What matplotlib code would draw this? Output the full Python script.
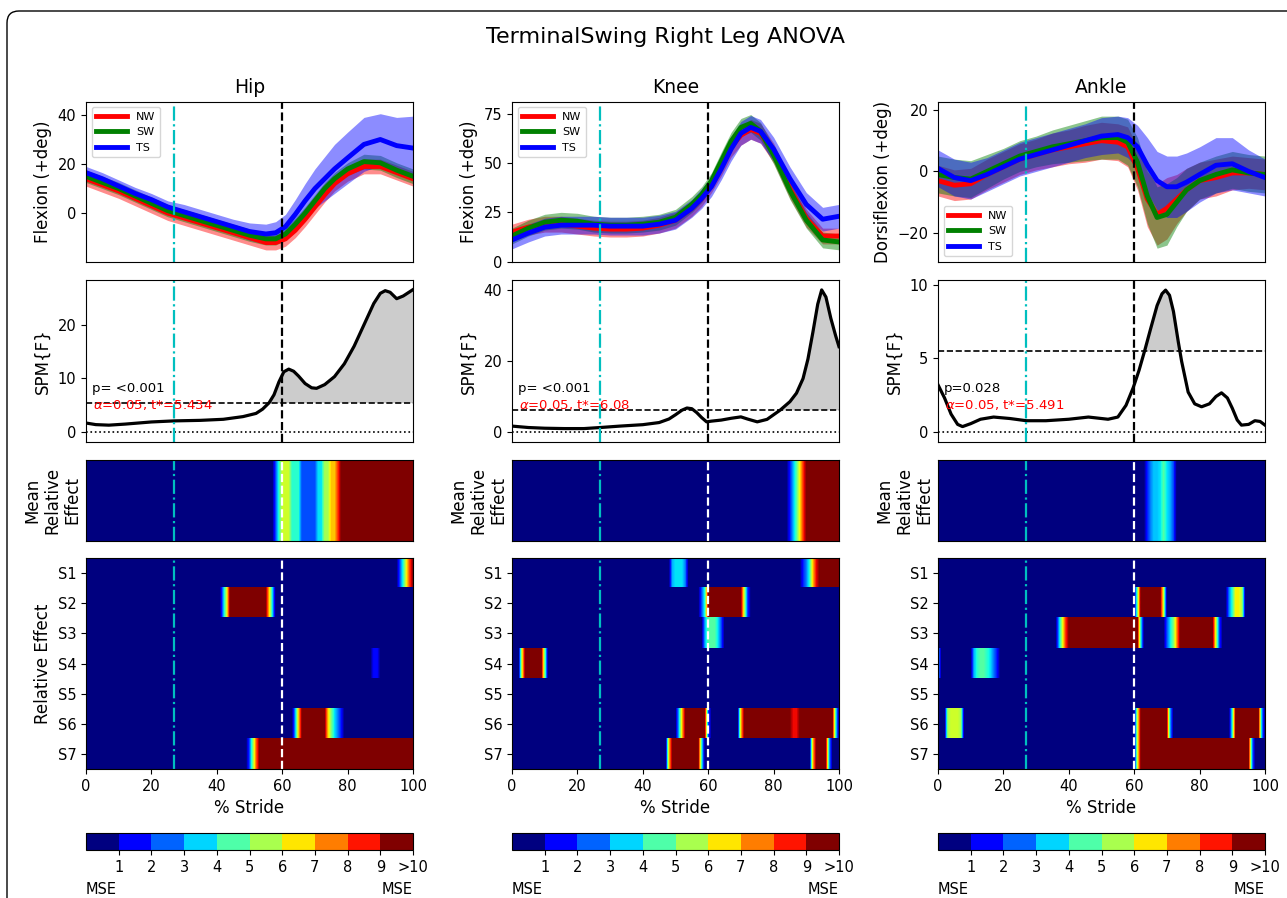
import numpy as np
import matplotlib
matplotlib.use('Agg')
import matplotlib.pyplot as plt
from matplotlib.colors import Normalize
from matplotlib.cm import ScalarMappable
from matplotlib.patches import FancyBboxPatch

W, H = 1287, 898

# ---- kinematics (mean / sd) on a shared % stride grid ----
xk = [0, 5, 10, 15, 20, 25, 30, 35, 40, 45, 50, 55, 58, 61, 64, 67, 70, 73, 76, 80, 85, 90, 95, 100]

hip_nw = [14, 11.5, 9, 6, 3, 0, -2, -4, -6, -8, -10, -12, -12, -10.5, -7, -2.5, 2.5, 7.5, 12, 16, 19, 19, 16.5, 14]
hip_sw = [15, 12.5, 10, 7, 4, 1, -1, -3, -5, -7, -9, -10.5, -10.5, -8.5, -4.5, 0, 5, 10, 14, 18, 21, 20.5, 17.5, 15]
hip_ts = [16.5, 14, 11, 8, 5.5, 2.5, 0.5, -1.5, -3.5, -5.5, -7.5, -8.5, -8, -5.5, -0.5, 5, 10, 14, 18, 22.5, 28, 30, 27.5, 26.5]
hip_nw_sd = [3, 3, 3, 3, 3, 3, 3, 3, 3, 3, 3, 3, 3, 3, 3, 3, 3, 3, 3, 3, 3, 3, 3, 3]
hip_sw_sd = [2.5, 2.5, 2.5, 2.5, 2.5, 2.5, 2.5, 2.5, 2.5, 2.5, 2.5, 2.5, 2.5, 2.5, 2.5, 2.5, 2.5, 2.5, 2.5, 2.5, 3, 3, 3, 3]
hip_ts_sd = [2.5, 2.5, 2.5, 2.5, 2.5, 2.5, 3, 3, 3, 3, 3.5, 4, 4.5, 5, 6, 7, 8, 9, 10, 10.5, 11, 10.5, 11.5, 13]

knee_nw = [15, 17.5, 19, 19, 18, 17, 16.5, 16.5, 17, 18.5, 21, 27, 32, 39, 48, 58, 64, 67, 65, 55, 37, 22, 13, 13]
knee_sw = [13, 17, 20, 21, 20.5, 19, 18.5, 18.5, 19, 20, 22.5, 29, 34, 41, 51, 61, 68, 70, 66, 54, 36, 21, 11, 10]
knee_ts = [11, 14.5, 17.5, 18.5, 18.5, 18.5, 18, 18, 18, 19, 21, 27, 32, 38, 47, 57, 65, 68, 66, 57, 42, 29, 21.5, 23]
knee_nw_sd = [4, 4, 4, 4, 4, 4, 4, 4, 4, 4, 4, 4, 4, 4, 4.5, 5, 5, 5, 5, 5, 5, 4.5, 4, 4]
knee_sw_sd = [4, 4, 4, 4, 4, 4, 4, 4, 4, 4, 4, 4, 4, 4, 4.5, 4.5, 4.5, 4.5, 4.5, 4.5, 4.5, 4, 4, 4]
knee_ts_sd = [4.5, 4.5, 4.5, 4.5, 4.5, 4.5, 4.5, 4.5, 4.5, 4.5, 4.5, 4.5, 5, 5, 5.5, 6, 6, 6, 6, 6, 6, 6, 6, 6]

ankle_nw = [-3, -4.5, -4, -1, 1.5, 4, 5.5, 7, 8, 9, 10, 9.5, 8, 1, -9, -14, -12, -9, -6, -3, -2, -0.5, -0.5, -1]
ankle_sw = [-1, -2, -2.5, 0, 2.5, 5, 6.5, 8, 9, 10, 11, 11, 9.5, 3, -8, -15, -14, -10, -6, -3, -1, 0.5, -0.5, -1]
ankle_ts = [1, -2, -3, -1, 1.5, 4, 5.5, 7, 8.5, 10, 11.5, 12, 11, 8, 2, -3, -5, -5, -3.5, -1, 2, 2.5, 0, -2]
ankle_nw_sd = [5, 5, 5, 5, 5, 5, 5, 5.5, 5.5, 6, 6, 6, 6.5, 7, 9, 10, 10, 8, 7, 6, 6, 5.5, 5, 5]
ankle_sw_sd = [6, 6, 6, 5.5, 5, 5, 5, 5.5, 6, 6.5, 7, 7, 7.5, 8, 9, 10, 10, 8, 7, 6, 6, 6, 6, 6]
ankle_ts_sd = [6, 6, 6, 5.5, 5.5, 5.5, 5.5, 5.5, 5.5, 5.5, 6, 6, 6.5, 7, 9, 9.5, 10, 10, 9.5, 9, 9, 8.5, 7, 6]

# ---- SPM{F} curves ----
hip_spm_x = [0, 3, 7, 12, 20, 27, 35, 42, 48, 52, 54, 56, 57.5, 59, 60.5, 62, 63.5, 65, 67, 69, 70.5, 73, 76, 79, 82, 85, 88, 90, 91.5, 93, 95, 97, 100]
hip_spm = [1.6, 1.3, 1.2, 1.4, 1.8, 2.0, 2.1, 2.3, 2.8, 3.4, 4.2, 5.4, 6.9, 9.3, 11.2, 11.7, 11.3, 10.4, 9.0, 8.2, 8.1, 8.8, 10.3, 12.7, 16, 20, 24, 25.9, 26.4, 26.1, 24.9, 25.4, 26.6]
knee_spm_x = [0, 5, 10, 16, 22, 27, 33, 40, 45, 48, 50, 52, 53.5, 55, 56.5, 58, 59.5, 61, 64, 67, 70, 72, 75, 78, 82, 85, 87, 89, 90.5, 92, 93.5, 94.7, 96, 97.5, 99, 100]
knee_spm = [1.6, 1.2, 1.0, 0.9, 0.9, 1.2, 1.6, 2.0, 2.6, 3.6, 4.8, 6.1, 6.7, 6.5, 5.4, 4.0, 2.8, 3.0, 3.3, 3.8, 4.2, 3.6, 2.8, 3.5, 6.1, 8.5, 10.9, 15, 20.5, 28, 36, 40, 38, 32, 27, 24]
ankle_spm_x = [0, 2, 4, 6, 7.5, 10, 13, 17, 22, 27, 33, 40, 46, 52, 55, 57.5, 59.7, 61.5, 63.3, 65, 67, 68.5, 69.6, 70.8, 72, 73.5, 74.5, 76.5, 78.5, 80.6, 83, 85, 86.7, 88.5, 90, 91.5, 92.8, 95, 96.9, 98.5, 100]
ankle_spm = [3.2, 2.3, 1.2, 0.5, 0.35, 0.55, 0.85, 1.0, 0.9, 0.75, 0.75, 0.85, 1.0, 0.85, 1.0, 1.8, 3.0, 4.2, 5.6, 7.0, 8.6, 9.4, 9.65, 9.3, 8.2, 6.1, 4.8, 2.7, 1.9, 1.7, 1.9, 2.4, 2.65, 2.3, 1.6, 0.8, 0.45, 0.5, 0.75, 0.7, 0.45]

thresholds = [5.434, 6.08, 5.491]
p_labels = ['p= <0.001', 'p= <0.001', 'p=0.028']

# ---- relative effect (MSE) maps: (first %, last %, value) ----
hip_mean_eff = [(58, 58, 2), (59, 59, 4), (60, 62, 6), (63, 65, 4), (66, 70, 2), (71, 72, 3.5),
                (73, 74, 5.5), (75, 76, 7), (77, 77, 8.5), (78, 100, 10)]
hip_subj_eff = [
    [(96, 96, 2), (97, 97, 4), (98, 98, 6.5), (99, 99, 8.5), (100, 100, 10)],
    [(42, 42, 3), (43, 43, 6), (44, 55, 10), (56, 56, 7), (57, 57, 3.5)],
    [],
    [(88, 89, 1.3)],
    [],
    [(64, 64, 3), (65, 65, 7), (66, 73, 10), (74, 74, 7), (75, 75, 5), (76, 76, 3.5), (77, 77, 2.5), (78, 78, 1.5)],
    [(50, 50, 2), (51, 51, 5), (52, 52, 8), (53, 100, 10)],
]
knee_mean_eff = [(85, 85, 1.5), (86, 86, 3), (87, 87, 4.5), (88, 88, 6.5), (89, 89, 8.5), (90, 100, 10)]
knee_subj_eff = [
    [(49, 49, 3), (50, 52, 3.5), (53, 53, 2.5), (89, 89, 1.5), (90, 90, 2.5), (91, 91, 4), (92, 92, 7), (93, 93, 9), (94, 100, 10)],
    [(58, 58, 2), (59, 59, 4), (60, 70, 10), (71, 71, 6), (72, 72, 2)],
    [(59, 59, 3), (60, 62, 4.5), (63, 63, 3.5), (64, 64, 2)],
    [(3, 3, 6), (4, 9, 10), (10, 10, 5)],
    [],
    [(51, 51, 3), (52, 52, 7), (53, 59, 10), (60, 60, 2), (70, 70, 7), (71, 85, 10), (86, 87, 9), (88, 98, 10), (99, 99, 4)],
    [(48, 48, 7), (49, 57, 10), (58, 58, 4), (92, 92, 7), (93, 96, 10), (97, 97, 3)],
]
ankle_mean_eff = [(64, 64, 1.5), (65, 65, 2.5), (66, 67, 3.2), (68, 68, 3.5), (69, 69, 4.5), (70, 70, 3.5), (71, 71, 3), (72, 72, 2)]
ankle_subj_eff = [
    [],
    [(61, 61, 5), (62, 68, 10), (69, 69, 6), (89, 89, 2.5), (90, 90, 4), (91, 92, 6.5), (93, 93, 5.5)],
    [(37, 37, 3), (38, 38, 6), (39, 39, 8.5), (40, 61, 10), (62, 62, 4), (70, 70, 2), (71, 71, 3.5),
     (72, 72, 5), (73, 73, 7.5), (74, 84, 10), (85, 85, 6), (86, 86, 2)],
    [(0, 0, 3.5), (11, 11, 3), (12, 12, 4), (13, 14, 4.5), (15, 15, 4), (16, 16, 3.5), (17, 17, 2.5), (18, 18, 1.5)],
    [],
    [(3, 3, 5.5), (4, 6, 6), (7, 7, 5.5), (61, 61, 6), (62, 70, 10), (71, 71, 3), (90, 90, 4), (91, 98, 10), (99, 99, 3)],
    [(61, 61, 6), (62, 95, 10), (96, 96, 3)],
]

subjects = ['S1', 'S2', 'S3', 'S4', 'S5', 'S6', 'S7']
cbar_labels = ['1', '2', '3', '4', '5', '6', '7', '8', '9', '>10']
toe_off = 60
phase_mark = 27


def seg_row(segs):
    row = np.zeros(101)
    for a, b, v in segs:
        row[a:b + 1] = v
    return row


def pax(left, top, bottom, width=327):
    return fig.add_axes([left / W, 1 - bottom / H, width / W, (bottom - top) / H])


joints = [
    dict(name='Hip', ylabel='Flexion (+deg)', means=[hip_nw, hip_sw, hip_ts], sds=[hip_nw_sd, hip_sw_sd, hip_ts_sd],
         ylim=(-19.8, 45.4), yt=[0, 20, 40], spm_x=hip_spm_x, spm=hip_spm, spm_ylim=(-1.9, 28.4), spm_yt=[0, 10, 20],
         mean_eff=hip_mean_eff, subj_eff=hip_subj_eff, leg_loc='upper left'),
    dict(name='Knee', ylabel='Flexion (+deg)', means=[knee_nw, knee_sw, knee_ts], sds=[knee_nw_sd, knee_sw_sd, knee_ts_sd],
         ylim=(0, 81), yt=[0, 25, 50, 75], spm_x=knee_spm_x, spm=knee_spm, spm_ylim=(-2.8, 42.8), spm_yt=[0, 20, 40],
         mean_eff=knee_mean_eff, subj_eff=knee_subj_eff, leg_loc='upper left'),
    dict(name='Ankle', ylabel='Dorsiflexion (+deg)', means=[ankle_nw, ankle_sw, ankle_ts], sds=[ankle_nw_sd, ankle_sw_sd, ankle_ts_sd],
         ylim=(-29.4, 22.7), yt=[-20, 0, 20], spm_x=ankle_spm_x, spm=ankle_spm, spm_ylim=(-0.68, 10.34), spm_yt=[0, 5, 10],
         mean_eff=ankle_mean_eff, subj_eff=ankle_subj_eff, leg_loc='lower left'),
]

plt.rcParams['font.size'] = 10.5
plt.rcParams['axes.labelsize'] = 12
fig = plt.figure(figsize=(W / 100, H / 100), dpi=100)

fig.add_artist(FancyBboxPatch((0.07, -0.5), 13.5, 8.87 + 0.5, boxstyle='round,pad=0,rounding_size=0.12',
                              transform=fig.dpi_scale_trans, facecolor='none', edgecolor='black', lw=1.0))
fig.text(665 / W, 1 - 37 / H, 'TerminalSwing Right Leg ANOVA', ha='center', va='center', fontsize=16)

cmap = plt.get_cmap('jet')
norm = Normalize(0, 10)
colors = ['red', 'green', 'blue']
groups = ['NW', 'SW', 'TS']

for j, jd in enumerate(joints):
    left = 86 + j * 426

    # kinematics
    ax = pax(left, 101.7, 261.7)
    for m, s, c in zip(jd['means'], jd['sds'], colors):
        m = np.array(m); s = np.array(s)
        ax.fill_between(xk, m - s, m + s, color=c, alpha=0.45, lw=0)
    for m, c, g in zip(jd['means'], colors, groups):
        ax.plot(xk, m, color=c, lw=3.5, label=g)
    ax.axvline(phase_mark, color='c', ls='-.', lw=1.6)
    ax.axvline(toe_off, color='k', ls='--', lw=1.6)
    ax.set_xlim(0, 100)
    ax.set_ylim(*jd['ylim'])
    ax.set_yticks(jd['yt'])
    ax.set_xticks([])
    ax.set_ylabel(jd['ylabel'])
    ax.set_title(jd['name'], fontsize=13.5, pad=6)
    ax.legend(loc=jd['leg_loc'], fontsize=8, handlelength=2.8)

    # SPM{F}
    ax = pax(left, 280, 441.7)
    sx = np.array(jd['spm_x']); sy = np.array(jd['spm'])
    th = thresholds[j]
    ax.fill_between(sx, th, sy, where=sy > th, interpolate=True, color='0.8', lw=0)
    ax.plot(sx, sy, color='k', lw=2.3)
    ax.axhline(th, color='k', ls='--', lw=1.2)
    ax.axhline(0, color='k', ls=':', lw=1.2)
    ax.axvline(phase_mark, color='c', ls='-.', lw=1.6)
    ax.axvline(toe_off, color='k', ls='--', lw=1.6)
    ax.text(0.018, 0.33, p_labels[j], transform=ax.transAxes, va='center', fontsize=9.5)
    ax.text(0.022, 0.225, r'$\alpha$=0.05, t*=%s' % th, transform=ax.transAxes, va='center', fontsize=9.5, color='red')
    ax.set_xlim(0, 100)
    ax.set_ylim(*jd['spm_ylim'])
    ax.set_yticks(jd['spm_yt'])
    ax.set_xticks([])
    ax.set_ylabel('SPM{F}')

    # mean relative effect
    ax = pax(left, 460, 541)
    ax.imshow(seg_row(jd['mean_eff'])[None, :], extent=(-0.5, 100.5, 0, 1), aspect='auto', cmap=cmap, norm=norm,
              interpolation='bilinear', interpolation_stage='data')
    ax.axvline(phase_mark, color='c', ls='-.', lw=1.6)
    ax.axvline(toe_off, color='w', ls='--', lw=1.6)
    ax.set_xlim(0, 100)
    ax.set_ylim(0, 1)
    ax.set_xticks([])
    ax.set_yticks([])
    ax.set_ylabel('Mean\nRelative\nEffect', linespacing=1.15, labelpad=3)

    # per-subject relative effect
    ax = pax(left, 558, 769)
    for i, segs in enumerate(jd['subj_eff']):
        ax.imshow(seg_row(segs)[None, :], extent=(-0.5, 100.5, i + 0.5, i - 0.5), aspect='auto', cmap=cmap, norm=norm,
                  interpolation='bilinear', interpolation_stage='data')
    ax.axvline(phase_mark, color='c', ls='-.', lw=1.6)
    ax.axvline(toe_off, color='w', ls='--', lw=1.6)
    ax.set_xlim(0, 100)
    ax.set_ylim(6.5, -0.5)
    ax.set_yticks(range(7))
    ax.set_yticklabels(subjects)
    ax.set_xticks([0, 20, 40, 60, 80, 100])
    ax.set_xlabel('% Stride')
    if j == 0:
        ax.set_ylabel('Relative Effect')

    # colorbar
    cax = pax(left, 833, 850)
    cb = fig.colorbar(ScalarMappable(norm=norm, cmap=plt.get_cmap('jet', 10)), cax=cax, orientation='horizontal')
    cb.set_ticks(range(1, 11))
    cb.set_ticklabels(cbar_labels)
    cb.outline.set_linewidth(0.8)
    fig.text(left / W, 1 - 889 / H, 'MSE', ha='left', va='center')
    fig.text((left + 327) / W, 1 - 889 / H, 'MSE', ha='right', va='center')

fig.savefig('out.png', dpi=100)
